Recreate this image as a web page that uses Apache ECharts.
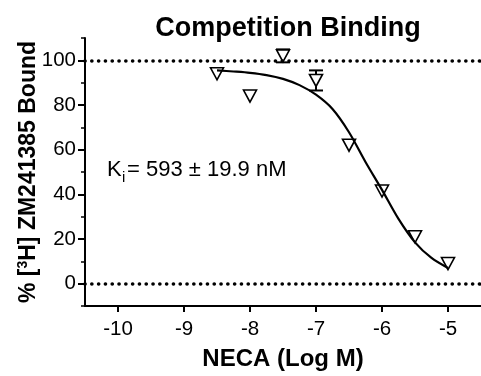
<!DOCTYPE html>
<html>
<head>
<meta charset="utf-8">
<script src="https://cdn.jsdelivr.net/npm/echarts@6/dist/echarts.min.js"></script>
<style>
  html, body { margin: 0; padding: 0; background: #fff; }
  #chart { width: 481px; height: 376px; }
</style>
</head>
<body>
<div id="chart"></div>
<script>
// Measured binding: log concentration of NECA vs % specific bound (mean, SEM)
const logConc  = [-8.5, -8, -7.5, -7, -6.5, -6, -5.5, -5];
const boundPct = [94, 84, 102, 91, 62, 41.5, 21, 9];
const boundSem = [0, 0, 2.9, 4.5, 0, 0, 0, 0];

// One-site competition fit, sampled along the fitted curve
const fitLogConc = [-8.5, -8.25, -8, -7.75, -7.5, -7.25, -7, -6.75, -6.5, -6.25, -6, -5.75, -5.5, -5.25, -5];
const fitBound   = [95.5, 95.0, 94.4, 93.4, 91.7, 88.9, 84.6, 78.2, 67.8, 54.5, 42, 29, 18.5, 11.5, 7];

// Axis ticks and reference levels
const xTicks = [-10, -9, -8, -7, -6, -5];
const yTicks = [0, 20, 40, 60, 80, 100];
const refLevels = [0, 100];

const FONT = 'Liberation Sans, Arial, Helvetica, sans-serif';

const pointData = logConc.map((x, i) => [x, boundPct[i]]);
const fitData = fitLogConc.map((x, i) => [x, fitBound[i]]);
const errData = logConc
  .map((x, i) => [x, boundPct[i] - boundSem[i], boundPct[i] + boundSem[i], boundSem[i]])
  .filter(d => d[3] > 0);

const chart = echarts.init(document.getElementById('chart'), null, { renderer: 'canvas' });

chart.setOption({
  animation: false,
  backgroundColor: '#fff',
  title: {
    text: 'Competition Binding',
    left: 283,
    top: 10,
    textAlign: 'center',
    textStyle: { fontFamily: FONT, fontSize: 27, fontWeight: 'bold', color: '#000' }
  },
  grid: { left: 85, top: 38, width: 404, height: 270 },
  xAxis: {
    type: 'value',
    min: -10.5,
    max: -4.5,
    axisLine: { show: true, onZero: false, lineStyle: { color: '#000', width: 2 } },
    axisTick: { show: true, customValues: xTicks, length: 6, lineStyle: { color: '#000', width: 2 } },
    axisLabel: { customValues: xTicks, fontFamily: FONT, fontSize: 20.5, color: '#000', margin: 13 },
    splitLine: { show: false },
    name: 'NECA (Log M)',
    nameLocation: 'middle',
    nameGap: 41,
    nameTextStyle: { fontFamily: FONT, fontSize: 24, fontWeight: 'bold', color: '#000' }
  },
  yAxis: [
    {
      type: 'value',
      min: -10,
      max: 110,
      interval: 10,
      position: 'left',
      axisLine: { show: true, onZero: false, lineStyle: { color: '#000', width: 2 } },
      axisTick: { show: true, length: 4, lineStyle: { color: '#000', width: 1.5 } },
      axisLabel: { show: false },
      splitLine: { show: false },
      name: '{a|% [}{s|3}{a|H] ZM241385 Bound}',
      nameLocation: 'middle',
      nameGap: 43,
      nameTextStyle: {
        fontFamily: FONT, fontWeight: 'bold', color: '#000',
        rich: {
          a: { fontFamily: FONT, fontSize: 23, fontWeight: 'bold', color: '#000', lineHeight: 26 },
          s: { fontFamily: FONT, fontSize: 14, fontWeight: 'bold', color: '#000', verticalAlign: 'top', lineHeight: 16 }
        }
      }
    },
    {
      type: 'value',
      min: -10,
      max: 110,
      position: 'left',
      axisLine: { show: false },
      axisTick: { show: true, customValues: yTicks, length: 7, lineStyle: { color: '#000', width: 2 } },
      axisLabel: { customValues: yTicks, fontFamily: FONT, fontSize: 20.5, color: '#000', margin: 9 },
      splitLine: { show: false }
    }
  ],
  graphic: [
    {
      type: 'group',
      left: 107,
      top: 159,
      children: [
        { type: 'text', x: 0, y: 0, style: { text: 'K', font: '22px ' + FONT, fill: '#000' } },
        { type: 'text', x: 15, y: 11, style: { text: 'i', font: '15px ' + FONT, fill: '#000' } },
        { type: 'text', x: 20, y: 0, style: { text: '= 593 \u00b1 19.9 nM', font: '22px ' + FONT, fill: '#000' } }
      ]
    }
  ],
  series: [
    {
      name: 'levels',
      type: 'line',
      data: [],
      silent: true,
      z: 1,
      markLine: {
        silent: true,
        symbol: ['none', 'none'],
        label: { show: false },
        lineStyle: { color: '#000', width: 3.6, type: [0.1, 6.7], cap: 'round' },
        data: refLevels.map(v => ({ yAxis: v }))
      }
    },
    {
      name: 'sem',
      type: 'custom',
      z: 2,
      data: errData,
      renderItem: function (params, api) {
        const x = api.value(0);
        const lo = api.coord([x, api.value(1)]);
        const hi = api.coord([x, api.value(2)]);
        const hw = 7;
        const style = { stroke: '#000', lineWidth: 2, fill: null };
        return {
          type: 'group',
          children: [
            { type: 'line', shape: { x1: hi[0], y1: hi[1], x2: lo[0], y2: lo[1] }, style: style },
            { type: 'line', shape: { x1: hi[0] - hw, y1: hi[1], x2: hi[0] + hw, y2: hi[1] }, style: style },
            { type: 'line', shape: { x1: lo[0] - hw, y1: lo[1], x2: lo[0] + hw, y2: lo[1] }, style: style }
          ]
        };
      }
    },
    {
      name: 'bound',
      type: 'scatter',
      z: 3,
      data: pointData,
      symbol: 'triangle',
      symbolRotate: 180,
      symbolSize: [13, 12],
      itemStyle: { color: '#fff', borderColor: '#000', borderWidth: 1.6, opacity: 1 }
    },
    {
      name: 'fit',
      type: 'line',
      z: 4,
      data: fitData,
      smooth: 0.3,
      showSymbol: false,
      symbol: 'none',
      lineStyle: { color: '#000', width: 2.2 }
    }
  ]
});
</script>
</body>
</html>
